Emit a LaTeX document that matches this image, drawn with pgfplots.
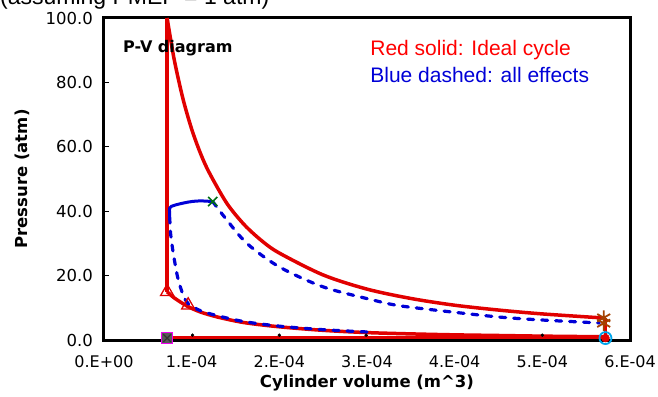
\documentclass[border=0pt]{standalone}
\usepackage{pgfplots}
\pgfplotsset{compat=1.18}
\usepackage{fontspec}
\setmainfont{DejaVu Sans}
\newfontfamily\dejavu{DejaVu Sans}
\newfontfamily\arial{Liberation Sans}
\usetikzlibrary{plotmarks}
\definecolor{cred}{RGB}{225,0,0}
\definecolor{cblue}{RGB}{0,0,215}
\definecolor{cgreen}{RGB}{0,110,20}
\definecolor{cbrown}{RGB}{165,65,0}
\definecolor{ccyan}{RGB}{0,165,235}
\definecolor{cmag}{RGB}{240,0,240}
\begin{document}
\begin{tikzpicture}
\begin{axis}[
  at={(0,0)}, anchor=south west,
  scale only axis, width=526pt, height=322pt,
  xmin=0, xmax=6, ymin=0, ymax=100,
  axis line style={line width=3pt},
  tick pos=left, tick align=inside,
  major tick length=5pt,
  tick style={black, line width=1.2pt},
  xtick={0,1,2,3,4,5,6},
  xticklabels={0.E+00,1.E-04,2.E-04,3.E-04,4.E-04,5.E-04,6.E-04},
  ytick={0,20,40,60,80,100},
  yticklabels={0.0,20.0,40.0,60.0,80.0,100.0},
  xticklabel style={font=\dejavu\fontsize{16}{19}\selectfont, anchor=center, inner sep=0pt, yshift=-22pt},
  yticklabel style={font=\dejavu\fontsize{16.5}{19}\selectfont, anchor=east, inner sep=0pt, xshift=-11pt},
  xlabel={Cylinder volume (m\textasciicircum 3)},
  xlabel style={font=\dejavu\bfseries\fontsize{16.5}{19}\selectfont, at={(rel axis cs:0.5,0)}, anchor=center, yshift=-43pt},
  clip=true,
]
% Red ideal cycle
\addplot[cred, line width=3.5pt, smooth, tension=0.5] coordinates {
(5.72,1.0) (5.0,1.2) (4.5,1.4) (4.0,1.6) (3.5,1.9) (3.0,2.3) (2.5,3.0) (2.0,4.1) (1.6,5.4) (1.3,7.1) (1.1,8.7) (0.95,10.5) (0.8,13.1) (0.72,15)
};
\addplot[cred, line width=3.5pt] coordinates {(0.72,15) (0.72,100)};
\addplot[cred, line width=3.5pt, smooth, tension=0.5] coordinates {
(0.72,100) (0.8,87.2) (0.9,75) (1.0,65.5) (1.1,58) (1.2,52) (1.4,42.5) (1.6,35.8) (1.8,30.8) (2.0,27) (2.5,20.2) (3.0,15.8) (3.5,12.9) (4.0,10.8) (4.5,9.3) (5.0,8.1) (5.72,6.8)
};
\addplot[cred, line width=3.5pt] coordinates {(5.72,6.8) (5.72,0.7)};
\addplot[cred, line width=3.5pt] coordinates {(0.72,0.7) (5.72,0.7)};
% Blue all effects
\addplot[cblue, line width=3.2pt, line cap=round, dash pattern=on 6pt off 8pt, smooth, tension=0.5] coordinates {
(3.0,2.5) (2.5,3.2) (2.0,4.3) (1.6,5.7) (1.3,7.5) (1.1,9.1) (0.96,11.3) (0.9,14.2) (0.84,19.5) (0.79,27) (0.76,33) (0.75,38)
};
\addplot[cblue, line width=3pt, smooth, tension=0.5] coordinates {
(0.75,38) (0.75,41) (0.8,41.8) (0.9,42.5) (1.0,43.0) (1.1,43.2) (1.24,43)
};
\addplot[cblue, line width=3.2pt, line cap=round, dash pattern=on 6pt off 8pt, smooth, tension=0.5] coordinates {
(1.24,43) (1.38,38) (1.63,30) (2.0,22.7) (2.5,16.5) (3.07,12.4) (3.38,10.6) (4.0,8.6) (4.52,7.1) (5.0,6.2) (5.65,5.3)
};
% markers
\addplot[only marks, mark=triangle, mark size=7.5pt, cred, line width=1.3pt] coordinates {(0.72,15) (0.96,10.8)};
\addplot[only marks, mark=x, mark size=6.5pt, cgreen, line width=1.6pt] coordinates {(1.24,43)};
\addplot[only marks, mark=asterisk, mark size=7.5pt, cbrown, line width=1.8pt] coordinates {(5.7,6.9) (5.7,5.2)};
\addplot[only marks, mark=square*, mark size=5.5pt, mark options={fill=gray!70!black, draw=cmag, line width=1.5pt}] coordinates {(0.72,0.6)};
\addplot[only marks, mark=x, mark size=5.5pt, black!80, line width=1.3pt] coordinates {(0.72,0.6)};
\addplot[only marks, mark=*, mark size=4pt, cred] coordinates {(5.72,0.6)};
\addplot[only marks, mark=o, mark size=6pt, ccyan, line width=1.8pt] coordinates {(5.72,0.6)};
\addplot[only marks, mark=*, mark size=1.5pt, black] coordinates {(1.01,1.5) (2.0,1.5) (2.99,1.5) (5.0,1.5)};
\node[anchor=west, inner sep=0pt, font=\dejavu\bfseries\fontsize{16}{19}\selectfont] at (rel axis cs:0.036,0.907) {P-V diagram};
\node[anchor=west, inner sep=0pt, text=red, font=\arial\fontsize{21}{25}\selectfont] at (rel axis cs:0.506,0.90) {Red solid: Ideal cycle};
\node[anchor=west, inner sep=0pt, text=cblue, font=\arial\fontsize{21}{25}\selectfont] at (rel axis cs:0.506,0.823) {Blue dashed: all effects};
\end{axis}
\node[rotate=90, anchor=center, inner sep=0pt, font=\dejavu\bfseries\fontsize{16.5}{19}\selectfont] at (-82pt,161pt) {Pressure (atm)};
\node[anchor=base west, inner sep=0pt, font=\arial\fontsize{23}{27}\selectfont] at (-104pt,335pt) {(assuming PMEP = 1 atm)};
\pgfresetboundingbox
\useasboundingbox (-104pt,-56pt) rectangle (554pt,340pt);
\end{tikzpicture}
\end{document}
